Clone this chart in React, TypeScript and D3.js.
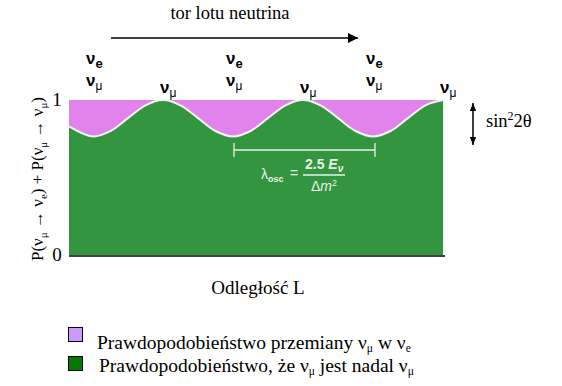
import React from "react";
import * as d3 from "d3";

// distance L (arbitrary units) and survival probability P(νμ→νμ)
const distanceL = [0, 24, 41.5, 59, 76.5, 94, 111.5, 129, 146.5, 164, 181.5, 199, 216.5, 234, 251.5, 269, 286.5, 304, 321.5, 339, 356.5, 374];
const survivalP = [0.83, 0.765, 0.8, 0.883, 0.966, 1.0, 0.966, 0.883, 0.8, 0.765, 0.8, 0.883, 0.966, 1.0, 0.966, 0.883, 0.8, 0.765, 0.8, 0.883, 0.966, 1.0];
const minimaL = [24, 164, 304];
const maximaL = [94, 234, 374];
const yTicks = [0, 1];
const legendLabels = ["przemiany", "nadal"];

const W = 562, H = 386;
const X0 = 69, X1 = 443, YTOP = 100, YBOT = 255;
const PINK = "#e283ec";
const GREEN = "#33953f";
const SERIF = "'Liberation Serif', 'DejaVu Serif', serif";
const SANS = "'Liberation Sans', Arial, sans-serif";

export default function App() {
  const x = d3.scaleLinear().domain([0, 374]).range([X0, X1]);
  const y = d3.scaleLinear().domain([0, 1]).range([YBOT, YTOP]);
  const pts = distanceL.map((l, i) => [l, survivalP[i]] as [number, number]);
  const area = d3.area<[number, number]>().x(d => x(d[0])).y0(y(0)).y1(d => y(d[1])).curve(d3.curveCatmullRom);
  const line = d3.line<[number, number]>().x(d => x(d[0])).y(d => y(d[1])).curve(d3.curveCatmullRom);

  const nu = (cx: number, by: number, sub: string, bold: boolean) => (
    <text x={cx - 6} y={by} fontFamily={SANS} fontWeight="bold" fontSize={17} fill="#000">
      ν<tspan dy={4} fontSize={bold ? 13 : 12} fontWeight={bold ? "bold" : "normal"}>{sub}</tspan>
    </text>
  );

  return (
    <svg width={W} height={H} style={{ position: "absolute", left: 0, top: 0, background: "#fff" }}>
      <defs>
        <marker id="ah" viewBox="0 0 10 10" refX="10" refY="5" markerWidth="8" markerHeight="8" orient="auto-start-reverse" markerUnits="userSpaceOnUse">
          <path d="M0,1 L10,5 L0,9 z" fill="#000" />
        </marker>
        <marker id="ah2" viewBox="0 0 10 10" refX="10" refY="5" markerWidth="10" markerHeight="12" orient="auto-start-reverse" markerUnits="userSpaceOnUse">
          <path d="M0,0 L10,5 L0,10 z" fill="#000" />
        </marker>
      </defs>
      {/* top title + arrow */}
      <text x={230} y={19} fontFamily={SERIF} fontSize={18.5} textAnchor="middle">tor lotu neutrina</text>
      <line x1={111} y1={38} x2={358} y2={38} stroke="#000" strokeWidth={1.5} markerEnd="url(#ah2)" />

      {/* plot */}
      <rect x={X0} y={YTOP} width={X1 - X0} height={YBOT - YTOP} fill={PINK} />
      <path d={area(pts) || ""} fill={GREEN} />
      <path d={line(pts) || ""} fill="none" stroke="#f2f2f2" strokeWidth={2} />
      <line x1={X0} y1={YBOT + 1} x2={X1 + 2} y2={YBOT + 1} stroke="#000" strokeWidth={1.5} />

      {/* oscillation length */}
      <g stroke="#e8f2e8" strokeWidth={1.3}>
        <line x1={x(minimaL[1]) + 1} y1={150} x2={x(minimaL[2]) + 2} y2={150} />
        <line x1={x(minimaL[1]) + 1} y1={143} x2={x(minimaL[1]) + 1} y2={157} />
        <line x1={x(minimaL[2]) + 2} y1={143} x2={x(minimaL[2]) + 2} y2={157} />
        <line x1={303} y1={175} x2={345} y2={175} />
      </g>
      <g fill="#e8f2e8" fontFamily={SANS} fontSize={14}>
        <text x={261} y={179}>λ<tspan dy={3} fontSize={9} fontWeight="bold">osc</tspan></text>
        <text x={290} y={178}>=</text>
        <text x={305} y={169} fontWeight="bold">2.5 <tspan fontStyle="italic">E</tspan><tspan dy={3} fontSize={10} fontStyle="italic">ν</tspan></text>
        <text x={311} y={191}>Δ<tspan fontStyle="italic">m</tspan><tspan dy={-5} fontSize={9}>2</tspan></text>
      </g>

      {/* ν labels */}
      {minimaL.map((l, i) => (
        <g key={"mn" + i}>
          {nu(x(l) - 1, 64, "e", true)}
          {nu(x(l) - 1, 86, "μ", false)}
        </g>
      ))}
      {maximaL.map((l, i) => (
        <g key={"mx" + i}>{nu(x(l) + 3, 93, "μ", false)}</g>
      ))}

      {/* y ticks */}
      {yTicks.map(t => (
        <text key={t} x={57} y={y(t) + 6} fontFamily={SERIF} fontSize={19} textAnchor="middle">{t}</text>
      ))}
      <text transform="translate(43,179) rotate(-90)" fontFamily={SERIF} fontSize={17} textAnchor="middle">
        P(ν<tspan dy={4} fontSize={11}>μ</tspan><tspan dy={-4}> → ν</tspan><tspan dy={4} fontSize={11}>e</tspan><tspan dy={-4}>) + P(ν</tspan><tspan dy={4} fontSize={11}>μ</tspan><tspan dy={-4}> → ν</tspan><tspan dy={4} fontSize={11}>μ</tspan><tspan dy={-4}>)</tspan>
      </text>

      {/* sin²2θ */}
      <line x1={473} y1={124} x2={473} y2={103} stroke="#000" strokeWidth={1.5} markerEnd="url(#ah)" />
      <line x1={473} y1={124} x2={473} y2={145} stroke="#000" strokeWidth={1.5} markerEnd="url(#ah)" />
      <text x={486} y={127} fontFamily={SERIF} fontSize={18.5}>sin<tspan dy={-7} fontSize={12}>2</tspan><tspan dy={7}>2θ</tspan></text>

      {/* x label */}
      <text x={258} y={294} fontFamily={SERIF} fontSize={19} textAnchor="middle">Odległość L</text>

      {/* legend */}
      <rect x={68.5} y={327.5} width={14} height={14} fill="#cc99ff" stroke="#000" strokeWidth={1} />
      <text x={97} y={349} fontFamily={SERIF} fontSize={19.5} data-key={legendLabels[0]}>
        Prawdopodobieństwo przemiany ν<tspan dy={3} fontSize={11.5}>μ</tspan><tspan dy={-3}> w ν</tspan><tspan dy={3} fontSize={11.5}>e</tspan>
      </text>
      <rect x={68.5} y={356.5} width={14} height={14} fill="#007a00" stroke="#000" strokeWidth={1} />
      <text x={99} y={372} fontFamily={SERIF} fontSize={19.5} data-key={legendLabels[1]}>
        Prawdopodobieństwo, że ν<tspan dy={3} fontSize={11.5}>μ</tspan><tspan dy={-3}> jest nadal ν</tspan><tspan dy={3} fontSize={11.5}>μ</tspan>
      </text>
    </svg>
  );
}
